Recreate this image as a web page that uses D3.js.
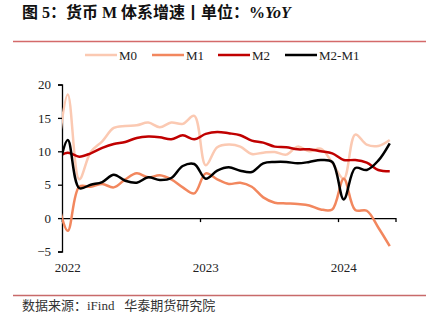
<!DOCTYPE html>
<html><head><meta charset="utf-8">
<script src="https://cdn.jsdelivr.net/npm/d3@7"></script>
<style>
html,body{margin:0;padding:0;background:#fff;}
svg{display:block;}
</style>
</head><body>
<script>
// ---- data (monthly, Dec 2021 – May 2024) ----
const months = ["2021-12",
 "2022-01","2022-02","2022-03","2022-04","2022-05","2022-06","2022-07","2022-08","2022-09","2022-10","2022-11","2022-12",
 "2023-01","2023-02","2023-03","2023-04","2023-05","2023-06","2023-07","2023-08","2023-09","2023-10","2023-11","2023-12",
 "2024-01","2024-02","2024-03","2024-04","2024-05"];
const m0 = [7.7, 18.5,5.8,9.9,11.5,13.5,13.8,13.9,14.3,13.6,14.3,14.1,15.3,
            7.9,10.6,11.0,10.7,9.6,9.8,9.9,9.5,10.7,10.0,10.4,8.3,
            5.9,12.5,11.0,10.8,11.7];
const m1 = [3.5, -1.9,4.7,4.7,5.1,4.6,5.8,6.7,6.1,6.4,5.8,4.6,3.7,
            6.7,5.8,5.1,5.3,4.7,3.1,2.3,2.2,2.1,1.9,1.3,1.3,
            5.9,1.2,1.1,-1.4,-4.2];
const m2 = [9.0, 9.8,9.2,9.7,10.5,11.1,11.4,12.0,12.2,12.1,11.8,12.4,11.8,
            12.6,12.9,12.7,12.4,11.6,11.3,10.7,10.6,10.3,10.3,10.0,9.7,
            8.7,8.7,8.3,7.2,7.0];
const m2m1 = [5.5, 11.7,4.5,5.0,5.4,6.5,5.6,5.3,6.1,5.7,6.0,7.8,8.1,
              5.9,7.1,7.6,7.1,6.9,8.2,8.4,8.4,8.2,8.4,8.7,8.4,
              2.8,7.5,7.2,8.6,11.2];
const seriesNames = ["M0","M1","M2","M2-M1"];
const seriesColors = ["#fbc9b2","#f2875e","#c00000","#000000"];
const yTicks = [-5,0,5,10,15,20];
const yearLabels = ["2022","2023","2024"];

const W = 443, H = 333;
const svg = d3.select("body").append("svg").attr("width", W).attr("height", H);
const serif = "'Times New Roman','Liberation Serif','Noto Sans CJK SC',serif";

// title
svg.append("text").attr("x", 22).attr("y", 18)
  .attr("font-family", serif).attr("font-weight", "bold").attr("font-size", 16)
  .attr("fill", "#111")
  .html('图 5：货币 M 体系增速丨单位：%<tspan font-style="italic">YoY</tspan>');
svg.append("line").attr("x1", 13).attr("x2", 426).attr("y1", 41.5).attr("y2", 41.5)
  .attr("stroke", "#d46a6a").attr("stroke-width", 1.5);

// scales
const idx = months.map((d, i) => i - 1); // Jan 2022 = 0
const x = d3.scaleLinear().domain([-0.5, 28.5]).range([62, 395.5]);
const y = d3.scaleLinear().domain([-5, 20]).range([251.5, 84.5]);

// clip
svg.append("defs").append("clipPath").attr("id", "plot")
  .append("rect").attr("x", 62).attr("y", 60).attr("width", 334).attr("height", 200);

// y axis
const yAxis = svg.append("g").attr("transform", "translate(62,0)")
  .call(d3.axisLeft(y).tickValues(yTicks).tickSize(4).tickPadding(7).tickFormat(d3.format("d")));
yAxis.select(".domain").attr("stroke", "#000").attr("stroke-width", 1.3);
yAxis.selectAll(".tick line").attr("stroke", "#000").attr("stroke-width", 1.3);
yAxis.selectAll("text").attr("font-family", serif).attr("font-size", 13).attr("fill", "#222");

// x axis at zero
const xAxis = svg.append("g").attr("transform", `translate(0,${y(0)})`)
  .call(d3.axisBottom(x).tickValues([-0.5, 11.5, 23.5]).tickSize(4).tickFormat(""));
xAxis.select(".domain").attr("stroke", "#000").attr("stroke-width", 1.3);
xAxis.selectAll(".tick line").attr("stroke", "#000").attr("stroke-width", 1.3);

// year labels
svg.append("g").selectAll("text").data(yearLabels).join("text")
  .attr("x", (d, i) => x(i * 12)).attr("y", 272)
  .attr("text-anchor", "middle").attr("font-family", serif).attr("font-size", 13).attr("fill", "#222")
  .text(d => d);

// lines
const allSeries = [m0, m1, m2, m2m1];
const line = d3.line().x((d, i) => x(idx[i])).y(d => y(d)).curve(d3.curveCatmullRom.alpha(0.5));
const g = svg.append("g").attr("clip-path", "url(#plot)");
allSeries.forEach((s, k) => {
  g.append("path").datum(s).attr("d", line).attr("fill", "none")
    .attr("stroke", seriesColors[k]).attr("stroke-width", 2.5).attr("stroke-linejoin", "round");
});

// legend
const legX = [85, 152, 218, 285];
const leg = svg.append("g");
seriesNames.forEach((n, k) => {
  leg.append("line").attr("x1", legX[k]).attr("x2", legX[k] + 32).attr("y1", 55).attr("y2", 55)
    .attr("stroke", seriesColors[k]).attr("stroke-width", 2.5);
  leg.append("text").attr("x", legX[k] + 34).attr("y", 59.5)
    .attr("font-family", serif).attr("font-size", 13).attr("fill", "#222").text(n);
});

// footer
svg.append("line").attr("x1", 13).attr("x2", 426).attr("y1", 295.5).attr("y2", 295.5)
  .attr("stroke", "#c86a6a").attr("stroke-width", 1.5);
svg.append("text").attr("x", 22).attr("y", 309.5)
  .attr("font-family", serif).attr("font-size", 13).attr("fill", "#333")
  .attr("xml:space", "preserve")
  .text("数据来源：iFind   华泰期货研究院");
</script>
</body></html>
